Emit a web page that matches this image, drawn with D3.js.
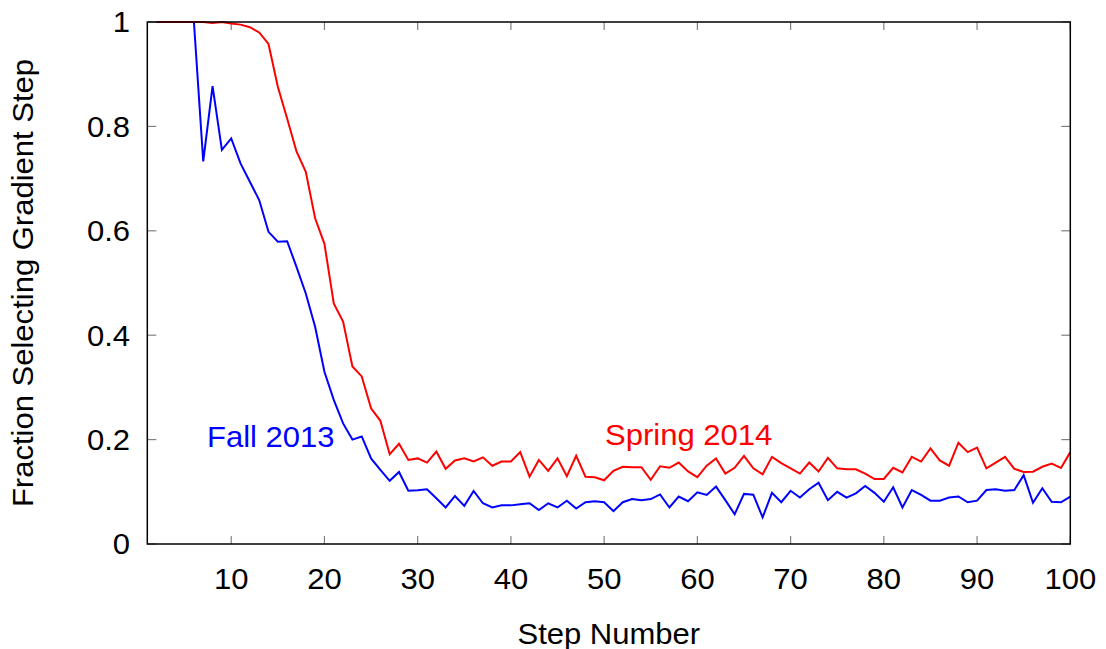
<!DOCTYPE html>
<html><head><meta charset="utf-8">
<script src="https://cdn.jsdelivr.net/npm/d3@7"></script>
<style>body{margin:0;background:#fff}svg{display:block}text{font-family:"Liberation Sans",Arial,sans-serif}</style>
</head><body><svg id="c" width="1106" height="649"></svg>
<script>
const steps = d3.range(2, 101);
const fall2013 = [1,1,1,1,1,0.733,0.877,0.755,0.777,0.729,0.694,0.659,0.598,0.579,0.580,0.531,0.480,0.416,0.330,0.276,0.231,0.200,0.206,0.164,0.142,0.121,0.138,0.102,0.103,0.105,0.0875,0.070,0.092,0.073,0.1015,0.078,0.070,0.074,0.074,0.076,0.078,0.065,0.078,0.070,0.083,0.068,0.080,0.082,0.080,0.063,0.080,0.086,0.084,0.086,0.095,0.070,0.091,0.082,0.099,0.094,0.110,0.084,0.057,0.096,0.0945,0.051,0.098,0.080,0.102,0.089,0.105,0.1175,0.084,0.100,0.089,0.097,0.111,0.098,0.081,0.1086,0.070,0.1034,0.094,0.083,0.083,0.089,0.091,0.080,0.083,0.1034,0.105,0.102,0.1034,0.132,0.079,0.1067,0.081,0.080,0.0907];
const spring2014 = [1,1,1,1,1,1,0.998,1.0,0.997,0.995,0.99,0.98,0.958,0.876,0.815,0.752,0.713,0.624,0.575,0.461,0.426,0.340,0.321,0.260,0.236,0.172,0.192,0.161,0.164,0.156,0.177,0.144,0.160,0.164,0.158,0.166,0.150,0.158,0.158,0.176,0.129,0.161,0.140,0.164,0.130,0.169,0.129,0.128,0.122,0.140,0.148,0.147,0.147,0.123,0.149,0.146,0.156,0.139,0.128,0.150,0.164,0.135,0.146,0.169,0.145,0.1335,0.167,0.155,0.145,0.135,0.156,0.139,0.165,0.145,0.143,0.143,0.135,0.1245,0.1245,0.146,0.137,0.167,0.158,0.183,0.160,0.150,0.194,0.176,0.1845,0.145,0.156,0.167,0.144,0.138,0.1386,0.148,0.154,0.1456,0.176];
const xTicks = [10,20,30,40,50,60,70,80,90,100];
const yTicks = [0,0.2,0.4,0.6,0.8,1];
const seriesNames = ["Fall 2013","Spring 2014"];
const seriesColors = ["#0000ff","#ff0000"];

const svg = d3.select("#c");
const L=147.3, R=1070.3, T=22, B=544;
const x = d3.scaleLinear().domain([1,100]).range([L,R]);
const y = d3.scaleLinear().domain([0,1]).range([B,T]);
const fs = 29, sx = 1.07;

function label(px, py, str, anchor, color, rot) {
  const t = svg.append("text")
    .attr("transform", `translate(${px},${py})` + (rot ? ` rotate(${rot})` : "") + ` scale(${sx},1)`)
    .attr("text-anchor", anchor || "start")
    .attr("font-size", fs)
    .attr("fill", color || "#000")
    .text(str);
  return t;
}

const tickCol = "#808080";
const g = svg.append("g");
xTicks.forEach(t=>{
  g.append("line").attr("x1",x(t)).attr("x2",x(t)).attr("y1",B).attr("y2",B-8).attr("stroke",tickCol).attr("stroke-width",1.2);
  g.append("line").attr("x1",x(t)).attr("x2",x(t)).attr("y1",T).attr("y2",T+8).attr("stroke",tickCol).attr("stroke-width",1.2);
  label(x(t), 589, d3.format("d")(t), "middle");
});
yTicks.forEach(t=>{
  g.append("line").attr("x1",L).attr("x2",L+9).attr("y1",y(t)).attr("y2",y(t)).attr("stroke",tickCol).attr("stroke-width",1.2);
  g.append("line").attr("x1",R).attr("x2",R-9).attr("y1",y(t)).attr("y2",y(t)).attr("stroke",tickCol).attr("stroke-width",1.2);
  label(130, y(t)+10.3, t===0||t===1?String(t):d3.format(".1f")(t), "end");
});

const line = d3.line().x((d,i)=>x(steps[i])).y(d=>y(d));
[fall2013, spring2014].forEach((s,k)=>{
  svg.append("path").datum(s).attr("d",line).attr("fill","none").attr("stroke",seriesColors[k]).attr("stroke-width",2).attr("stroke-linejoin","miter");
});

svg.append("rect").attr("x",L).attr("y",T).attr("width",R-L).attr("height",B-T).attr("fill","none").attr("stroke","#000").attr("stroke-width",1.5);

label(207, 447, seriesNames[0], "start", seriesColors[0]);
label(605, 445, seriesNames[1], "start", seriesColors[1]);

label((L+R)/2, 644, "Step Number", "middle");
svg.append("text")
  .attr("transform", `translate(33,${(T+B)/2}) rotate(-90) scale(${sx},1)`)
  .attr("text-anchor","middle").attr("font-size",fs).text("Fraction Selecting Gradient Step");
</script></body></html>
